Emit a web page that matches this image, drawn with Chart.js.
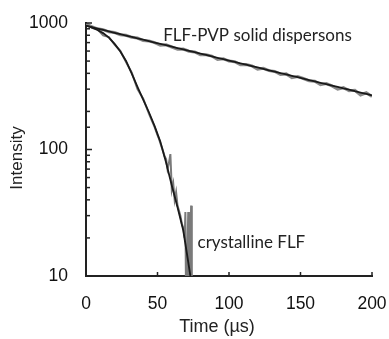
<!DOCTYPE html>
<html>
<head>
<meta charset="utf-8">
<script src="https://cdn.jsdelivr.net/npm/chart.js@4.4.0/dist/chart.umd.min.js"></script>
<style>
  html, body { margin: 0; padding: 0; background: #fff; }
  #wrap { width: 389px; height: 339px; }
</style>
</head>
<body>
<div id="wrap"><canvas id="decay-chart"></canvas></div>
<script>
var pvpTime = [0, 4, 8, 12, 16, 20, 24, 28, 32, 36, 40, 44, 48, 52, 56, 60, 64, 68, 72, 76,
    80, 84, 88, 92, 96, 100, 104, 108, 112, 116, 120, 124, 128, 132, 136, 140, 144, 148, 152, 156,
    160, 164, 168, 172, 176, 180, 184, 188, 192, 196, 200];
var pvpIntensity = [990, 935, 900, 885, 852, 840, 808, 800, 770, 760, 726, 722, 700, 668, 672, 646, 620, 622, 598, 590,
    562, 560, 548, 515, 522, 500, 494, 468, 470, 458, 432, 438, 420, 414, 392, 396, 370, 378, 364, 350,
    346, 326, 332, 318, 300, 308, 292, 294, 270, 281, 262];
var pvpFit = [950, 926, 903, 881, 859, 837, 816, 796, 776, 757, 738, 719, 701, 684, 667, 650, 634, 618, 603, 588,
    573, 559, 545, 531, 518, 505, 492, 480, 468, 456, 445, 434, 423, 412, 402, 392, 382, 373, 363, 354,
    345, 337, 328, 320, 312, 304, 297, 289, 282, 275, 268];

var crystTime = [0, 4, 8, 12, 16, 20, 24, 28, 32, 36, 40, 44, 48, 50, 51, 52, 53, 54, 55, 56,
    57, 58, 59, 60, 61, 62, 63, 64, 65, 66, 67, 68, 69, 69.5, 70, 71, 71.5, 72, 73, 73.5,
    74];
var crystIntensity = [1000, 915, 890, 800, 775, 676, 602, 492, 405, 300, 252, 192, 150, 130, 122, 112, 104, 96, 88, 84,
    70, 78, 92, 48, 54, 40, 46, 36, 33, 30, 26, 24, 20, 32, 6, 16, 32, 6, 14, 36,
    6];
var crystFitTime = [0, 4, 8, 12, 16, 20, 24, 28, 32, 36, 40, 44, 48, 52, 56, 60, 64, 68, 71, 73];
var crystFit = [955, 923, 881, 832, 767, 684, 596, 501, 398, 313, 248, 197, 153, 115, 79, 52, 35, 23, 14, 10];

var xTicks = [0, 50, 100, 150, 200];
var yLabels = [10, 100, 1000];

function points(xs, ys) {
    return xs.map(function (x, i) { return { x: x, y: ys[i] }; });
}

// inward tick marks and the text placed on the plot
var decorations = {
    id: "decorations",
    afterDraw: function (chart) {
        var ctx = chart.ctx;
        var x = chart.scales.x;
        var y = chart.scales.y;
        var area = chart.chartArea;
        ctx.save();
        ctx.strokeStyle = "#222";
        ctx.lineWidth = 1.5;
        y.ticks.forEach(function (t) {
            var py = y.getPixelForValue(t.value);
            var len = yLabels.indexOf(t.value) >= 0 ? 6 : 4;
            ctx.beginPath();
            ctx.moveTo(area.left, py);
            ctx.lineTo(area.left + len, py);
            ctx.stroke();
        });
        x.ticks.forEach(function (t) {
            if (t.value === 0) return;
            var px = x.getPixelForValue(t.value);
            ctx.beginPath();
            ctx.moveTo(px, area.bottom);
            ctx.lineTo(px, area.bottom - 4);
            ctx.stroke();
        });

        ctx.fillStyle = "#222";
        ctx.textBaseline = "middle";
        ctx.textAlign = "left";
        ctx.font = "17px Lato";
        ctx.fillText("FLF-PVP solid dispersons", x.getPixelForValue(54), y.getPixelForValue(790));
        ctx.fillText("crystalline FLF", x.getPixelForValue(78), y.getPixelForValue(18.5));

        ctx.font = "18px 'Liberation Sans'";
        ctx.textAlign = "center";
        ctx.fillText("Time (\u00b5s)", 217, 327);

        ctx.translate(17, 158);
        ctx.rotate(-Math.PI / 2);
        ctx.font = "17px 'Liberation Sans'";
        ctx.fillText("Intensity", 0, 0);
        ctx.restore();
    }
};

var ctxDecay = document.getElementById("decay-chart").getContext("2d");
new Chart(ctxDecay, {
    type: "line",
    data: {
        datasets: [{
            label: "FLF-PVP fit",
            data: points(pvpTime, pvpFit),
            borderColor: "#1a1a1a",
            borderWidth: 1.8,
            pointRadius: 0
        }, {
            label: "crystalline FLF fit",
            data: points(crystFitTime, crystFit),
            borderColor: "#1a1a1a",
            borderWidth: 1.8,
            pointRadius: 0
        }, {
            label: "FLF-PVP solid dispersons",
            data: points(pvpTime, pvpIntensity),
            borderColor: "#8a8a8a",
            borderWidth: 3,
            pointRadius: 0
        }, {
            label: "crystalline FLF",
            data: points(crystTime, crystIntensity),
            borderColor: "#7a7a7a",
            borderWidth: 2,
            pointRadius: 0
        }]
    },
    options: {
        responsive: true,
        maintainAspectRatio: false,
        animation: false,
        layout: { padding: { left: 0, top: 23, right: 17, bottom: 0 } },
        plugins: {
            legend: { display: false },
            tooltip: { enabled: false }
        },
        scales: {
            x: {
                type: "linear",
                min: 0,
                max: 200,
                afterFit: function (scale) {
                    scale.height = 63;
                    scale.paddingLeft = 0;
                    scale.paddingRight = 0;
                },
                afterBuildTicks: function (scale) {
                    scale.ticks = xTicks.map(function (v) { return { value: v }; });
                },
                grid: { display: false, drawTicks: false },
                border: { display: true, color: "#222", width: 2 },
                ticks: {
                    padding: 18,
                    color: "#111",
                    font: { family: "'Liberation Sans'", size: 17.5 },
                    maxRotation: 0
                }
            },
            y: {
                type: "logarithmic",
                min: 10,
                max: 1000,
                afterFit: function (scale) {
                    scale.width = 86;
                    scale.paddingTop = 0;
                    scale.paddingBottom = 0;
                },
                grid: { display: false, drawTicks: false },
                border: { display: true, color: "#222", width: 2 },
                ticks: {
                    autoSkip: false,
                    padding: 18,
                    color: "#111",
                    font: { family: "'Liberation Sans'", size: 17.5 },
                    callback: function (v) {
                        return yLabels.indexOf(v) >= 0 ? String(v) : "";
                    }
                }
            }
        }
    },
    plugins: [decorations]
});
</script>
</body>
</html>
